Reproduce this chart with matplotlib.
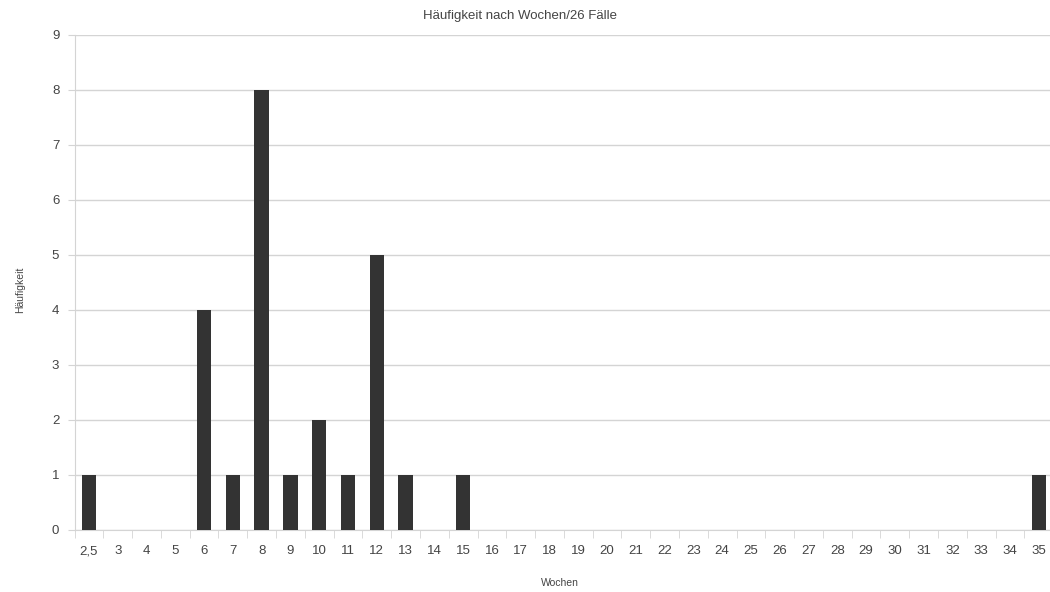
import matplotlib.pyplot as plt
import numpy as np

plt.rcParams['font.family'] = ['Liberation Sans', 'DejaVu Sans']

# weeks (categories) and counts
wochen = ['2,5'] + [str(w) for w in range(3, 36)]
counts = [1, 0, 0, 0, 4, 1, 8, 1, 2, 1, 5, 1, 0, 1,
          0, 0, 0, 0, 0, 0, 0, 0, 0, 0, 0, 0, 0, 0, 0, 0, 0, 0, 0, 1]
y_ticks = list(range(0, 10))

text_col = '#444444'
grid_col = '#d4d4d4'

fig = plt.figure(figsize=(10.5, 5.92), dpi=100)
ax = fig.add_axes([0.071, 0.105, 0.932, 0.836])

x = np.arange(len(wochen))
ax.bar(x, counts, width=0.5, color='#333333', zorder=3)

ax.set_xlim(-0.5, len(wochen) - 0.5)
ax.set_ylim(0, 9)
ax.set_yticks(y_ticks)
ax.set_yticklabels([str(v) for v in y_ticks], color=text_col, fontsize=9.5)
ax.yaxis.grid(True, color=grid_col, linewidth=1, zorder=0)

# category labels centred, tick marks between categories
ax.set_xticks(x)
ax.set_xticklabels(wochen, color=text_col, fontsize=9.5)
ax.tick_params(axis='x', length=0, pad=11)
ax.set_xticks(np.arange(-0.5, len(wochen)), minor=True)
ax.tick_params(axis='x', which='minor', length=6, color=grid_col, direction='out')
ax.tick_params(axis='y', length=5, color=grid_col, pad=6)

for s in ['top', 'right']:
    ax.spines[s].set_visible(False)
for s in ['left', 'bottom']:
    ax.spines[s].set_color(grid_col)

fig.text(0.495, 0.973, 'Häufigkeit nach Wochen/26 Fälle', ha='center', va='center',
         fontsize=9.5, color=text_col)
fig.text(0.019, 0.51, 'Häufigkeit', rotation=90, ha='center', va='center',
         fontsize=7.5, color=text_col)
fig.text(0.533, 0.015, 'Wochen', ha='center', va='center', fontsize=7.5, color=text_col)

fig.savefig('out.png', dpi=100)
